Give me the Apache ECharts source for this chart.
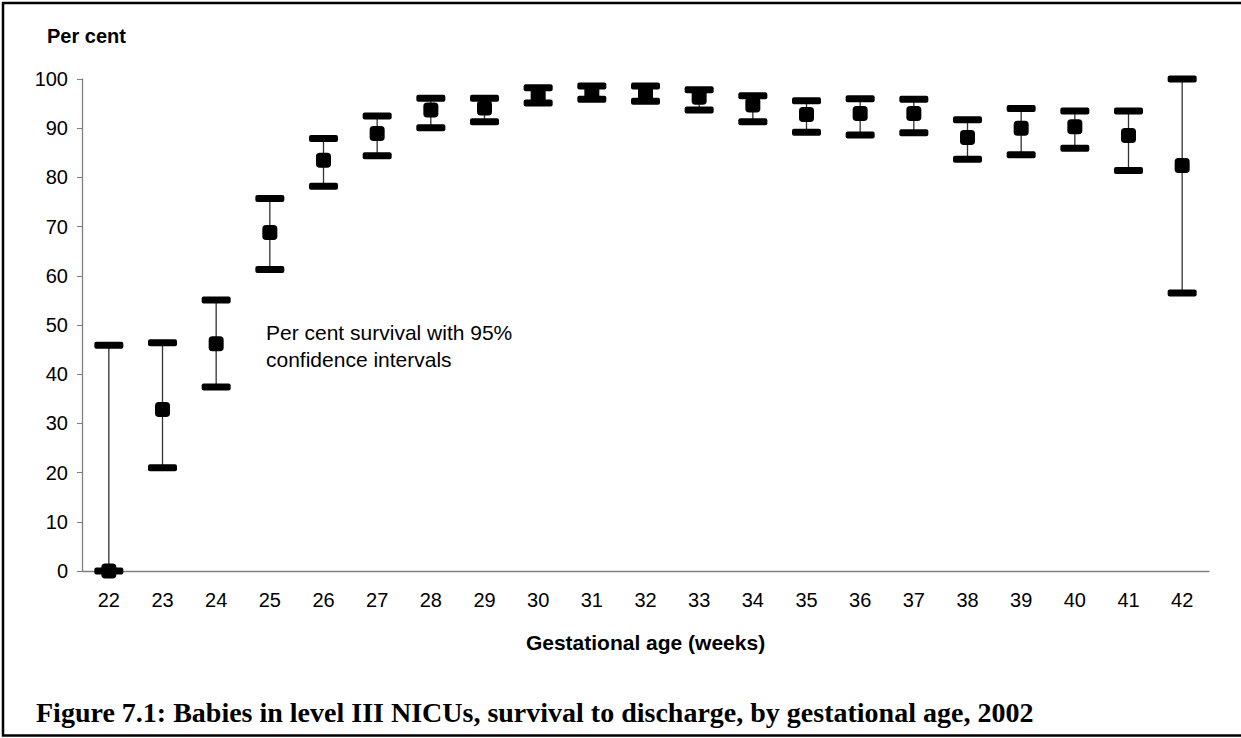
<!DOCTYPE html>
<html>
	<head>
		<meta charset="UTF-8">
		<title>Survival to discharge</title>
		<script type="text/javascript" src="https://cdn.jsdelivr.net/npm/echarts@6/dist/echarts.min.js"></script>
		<style>
			html, body { margin: 0; padding: 0; background: #fff; }
		</style>
	</head>
	<body>
		<div id="main" style="width: 1241px;height:738px;"></div>
		<script type="text/javascript">
			// gestational age (weeks)
			var weeks = ['22', '23', '24', '25', '26', '27', '28', '29', '30', '31', '32',
				'33', '34', '35', '36', '37', '38', '39', '40', '41', '42'];
			// per cent survival
			var survival = [0, 32.8, 46.2, 68.8, 83.5, 88.9, 93.7, 94.1, 96.6, 97.2, 97.0,
				96.3, 94.7, 92.8, 93.0, 93.0, 88.1, 90.0, 90.3, 88.5, 82.4];
			// 95% confidence interval
			var lower = [0, 21.0, 37.4, 61.3, 78.2, 84.4, 90.1, 91.3, 95.1, 95.9, 95.5,
				93.7, 91.3, 89.2, 88.6, 89.1, 83.7, 84.6, 85.9, 81.4, 56.5];
			var upper = [45.9, 46.4, 55.1, 75.7, 87.9, 92.5, 96.1, 96.1, 98.2, 98.6, 98.6,
				97.8, 96.6, 95.6, 96.0, 95.9, 91.7, 94.0, 93.5, 93.5, 100];

			var font = 'Arial, "Liberation Sans", sans-serif';

			var ciData = weeks.map(function (w, i) {
				return [i, lower[i], upper[i]];
			});

			// whisker + two caps for each week
			function renderCI(params, api) {
				var x = api.value(0);
				var lo = api.coord([x, api.value(1)]);
				var hi = api.coord([x, api.value(2)]);
				var capW = 29, capH = 7;
				return {
					type: 'group',
					children: [
						{
							type: 'line',
							shape: { x1: lo[0], y1: lo[1], x2: hi[0], y2: hi[1] },
							style: { stroke: '#333', lineWidth: 1.3 }
						},
						{
							type: 'rect',
							shape: { x: hi[0] - capW / 2, y: hi[1] - capH / 2, width: capW, height: capH, r: 2 },
							style: { fill: '#000' }
						},
						{
							type: 'rect',
							shape: { x: lo[0] - capW / 2, y: lo[1] - capH / 2, width: capW, height: capH, r: 2 },
							style: { fill: '#000' }
						}
					]
				};
			}

			var myChart = echarts.init(document.getElementById('main'), null, { renderer: 'svg' });

			myChart.setOption({
				backgroundColor: '#fff',
				animation: false,
				grid: { left: 82, right: 32, top: 79, bottom: 167, containLabel: false },
				xAxis: {
					type: 'category',
					data: weeks,
					boundaryGap: true,
					name: 'Gestational age (weeks)',
					nameLocation: 'middle',
					nameGap: 71,
					nameTextStyle: { fontFamily: font, fontWeight: 'bold', fontSize: 21, color: '#000', verticalAlign: 'middle' },
					axisLine: { lineStyle: { color: '#808080', width: 1.3 } },
					axisTick: { alignWithLabel: false, length: 6, lineStyle: { color: '#808080' } },
					axisLabel: { fontFamily: font, fontSize: 20, color: '#000', margin: 19 },
					splitLine: { show: false }
				},
				yAxis: {
					type: 'value',
					min: 0,
					max: 100,
					interval: 10,
					axisLine: { show: true, lineStyle: { color: '#808080', width: 1.3 } },
					axisTick: { show: true, length: 5, lineStyle: { color: '#808080' } },
					axisLabel: { fontFamily: font, fontSize: 20, color: '#000', margin: 14 },
					splitLine: { show: false }
				},
				graphic: [
					{
						type: 'rect',
						shape: { x: 3, y: 3, width: 1300, height: 732.5 },
						style: { fill: 'none', stroke: '#000', lineWidth: 2.5 },
						silent: true
					},
					{
						type: 'text',
						left: 47,
						top: 26,
						style: { text: 'Per cent', font: 'bold 20px ' + font, fill: '#000' }
					},
					{
						type: 'text',
						left: 266,
						top: 319,
						style: {
							text: 'Per cent survival with 95%\nconfidence intervals',
							font: '21px ' + font,
							lineHeight: 27,
							fill: '#000'
						}
					},
					{
						type: 'text',
						left: 36,
						top: 698,
						style: {
							text: 'Figure 7.1: Babies in level III NICUs, survival to discharge, by gestational age, 2002',
							font: 'bold 28px "Liberation Serif", "Times New Roman", serif',
							fill: '#000'
						}
					}
				],
				series: [
					{
						type: 'custom',
						name: 'CI',
						data: ciData,
						renderItem: renderCI,
						clip: false,
						z: 2
					},
					{
						type: 'scatter',
						name: 'Survival',
						data: survival,
						symbol: 'roundRect',
						symbolSize: 15,
						itemStyle: { color: '#000', opacity: 1 },
						clip: false,
						z: 3
					}
				]
			});
		</script>
	</body>
</html>
